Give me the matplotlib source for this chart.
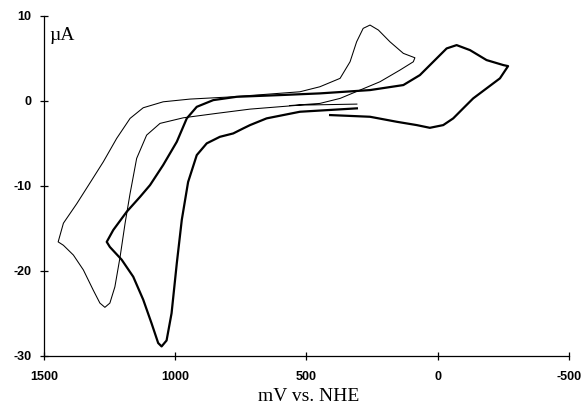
import matplotlib
matplotlib.use("Agg")
import matplotlib.pyplot as plt

# thin trace (mV vs NHE, uA)
thin_mv = [308, 525, 715, 842, 969, 1058, 1109, 1147, 1166, 1172, 1191, 1210, 1230, 1249, 1268, 1287,
           1312, 1350, 1388, 1426, 1446, 1426, 1375, 1318, 1274, 1223, 1172, 1122, 1046, 944, 780,
           525, 449, 372, 334, 309, 284, 258, 226, 182, 131, 87, 93, 144, 220, 296, 372, 449, 563]
thin_ua = [-0.39, -0.51, -0.98, -1.48, -2.0, -2.66, -4.04, -6.78, -9.92, -10.9, -14.4, -18.35, -21.9, -23.8, -24.3, -23.8,
           -22.3, -19.9, -18.15, -17.0, -16.6, -14.4, -12.1, -9.33, -7.18, -4.42, -2.07, -0.82, -0.12, 0.2, 0.47,
           1.06, 1.65, 2.64, 4.59, 6.94, 8.52, 8.91, 8.32, 6.94, 5.58, 5.06, 4.59, 3.61, 2.24, 1.26, 0.28, -0.31, -0.56]

# thick trace
thick_mv = [410, 258, 156, 80, 30, -21, -59, -97, -135, -186, -237, -268, -250, -186, -123, -72, -34, 17,
            68, 131, 258, 449, 601, 766, 855, 918, 956, 994, 1046, 1096, 1134, 1185, 1236, 1261,
            1249, 1204, 1160, 1122, 1090, 1065, 1052, 1033, 1014, 994, 975, 951, 918, 880, 830, 779,
            741, 715, 652, 525, 308]
thick_ua = [-1.68, -1.88, -2.47, -2.86, -3.18, -2.86, -2.07, -0.89, 0.28, 1.46, 2.64, 4.08, 4.2, 4.79, 5.96, 6.55, 6.16, 4.59,
            3.02, 1.85, 1.26, 0.87, 0.67, 0.47, 0.08, -0.71, -2.07, -4.82, -7.56, -9.92, -11.3, -13.06, -15.2, -16.6,
            -17.2, -18.7, -20.7, -23.4, -26.2, -28.5, -28.9, -28.2, -25.0, -19.1, -14.0, -9.56, -6.39, -5.01, -4.24, -3.84,
            -3.25, -2.86, -2.07, -1.29, -0.89]

xticks = [1500, 1000, 500, 0, -500]
xtick_labels = ['1500', '1000', '500', '0', '-500']
yticks = [10, 0, -10, -20, -30]
ytick_labels = ['10', '0', '-10', '-20', '-30']

fig = plt.figure(figsize=(5.85, 4.08), dpi=100)
ax = fig.add_axes([0.0752, 0.128, 0.8974, 0.8333])

ax.plot(thin_mv, thin_ua, color='black', lw=0.75, solid_joinstyle='round')
ax.plot(thick_mv, thick_ua, color='black', lw=1.6, solid_joinstyle='round')

ax.set_xlim(1500, -500)
ax.set_ylim(-30, 10)
ax.set_xticks(xticks)
ax.set_xticklabels(xtick_labels)
ax.set_yticks(yticks)
ax.set_yticklabels(ytick_labels)

for s in ['top', 'right']:
    ax.spines[s].set_visible(False)
for s in ['left', 'bottom']:
    ax.spines[s].set_linewidth(0.9)

ax.tick_params(direction='inout', length=6, width=0.9)
ax.tick_params(axis='x', pad=8)
ax.tick_params(axis='y', pad=6)
for lab in ax.get_xticklabels() + ax.get_yticklabels():
    lab.set_fontfamily('Liberation Sans')
    lab.set_fontweight('bold')
    lab.set_fontsize(9)

ax.text(0.011, 0.968, 'µA', transform=ax.transAxes, family='Liberation Serif',
        fontsize=14, va='top', ha='left')
fig.text(0.527, 0.028, 'mV vs. NHE', family='Liberation Serif', fontsize=14,
         ha='center', va='center')

fig.savefig('out.png', dpi=100)
